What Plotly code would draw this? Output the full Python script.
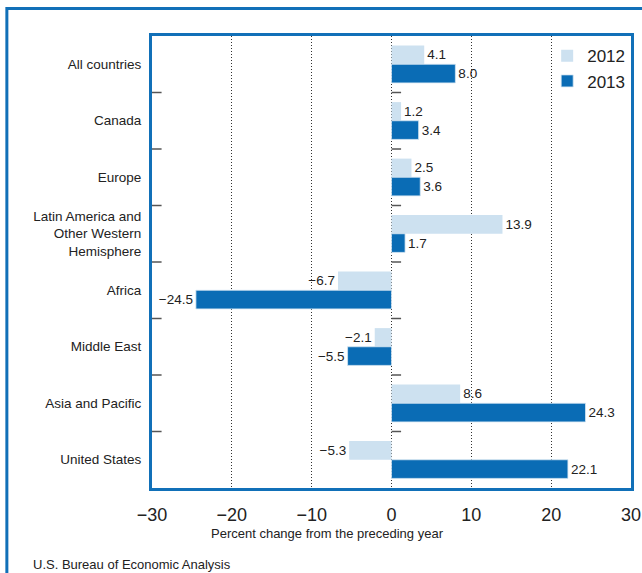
import plotly.graph_objects as go

regions = ['All countries', 'Canada', 'Europe',
           'Latin America and<br>Other Western<br>Hemisphere',
           'Africa', 'Middle East', 'Asia and Pacific', 'United States']
change_2012 = [4.1, 1.2, 2.5, 13.9, -6.7, -2.1, 8.6, -5.3]
change_2013 = [8.0, 3.4, 3.6, 1.7, -24.5, -5.5, 24.3, 22.1]
x_ticks = [-30, -20, -10, 0, 10, 20, 30]

BLUE = '#1170b8'


def fmt(v):
    s = f'{abs(v):.1f}'
    return '\u2212' + s if v < 0 else s


fig = go.Figure()
fig.add_trace(go.Bar(name='2012', y=regions, x=change_2012, orientation='h',
                     marker=dict(color='#cde1f0', line=dict(width=0)),
                     text=[fmt(v) for v in change_2012], textposition='outside',
                     textfont=dict(size=13.5, color='#222'), cliponaxis=False))
fig.add_trace(go.Bar(name='2013', y=regions, x=change_2013, orientation='h',
                     marker=dict(color='#0a6cb5', line=dict(color='#d6e6f3', width=0.8)),
                     text=[fmt(v) for v in change_2013], textposition='outside',
                     textfont=dict(size=13.5, color='#222'), cliponaxis=False))

# small boundary ticks on the left edge and on the zero line
for i in range(1, len(regions)):
    for x0, x1 in [(-30, -28.8), (0, 1.2)]:
        fig.add_shape(type='line', xref='x', yref='y', x0=x0, x1=x1,
                      y0=i - 0.5, y1=i - 0.5, line=dict(color='#555', width=1.5))

# outer frame
fig.add_shape(type='rect', xref='paper', yref='paper', x0=-0.303, x1=1.05,
              y0=-0.25, y1=1.061, line=dict(color=BLUE, width=3), layer='below')

fig.add_annotation(text='Percent change from the preceding year', xref='paper', yref='paper',
                   x=0.367, y=-0.0996, xanchor='center', yanchor='middle', showarrow=False,
                   font=dict(size=13, color='#222'))
fig.add_annotation(text='U.S. Bureau of Economic Analysis', xref='paper', yref='paper',
                   x=-0.252, y=-0.170, xanchor='left', yanchor='middle', showarrow=False,
                   font=dict(size=13, color='#222'))

fig.update_layout(
    width=642, height=573,
    margin=dict(l=152, r=11, t=36, b=85, autoexpand=False),
    paper_bgcolor='white', plot_bgcolor='white',
    font=dict(family='Liberation Sans, Arial, sans-serif', color='#222'),
    barmode='group', bargap=0.34, bargroupgap=0,
    showlegend=True,
    legend=dict(x=0.825, y=0.995, xanchor='left', yanchor='top', traceorder='normal',
                font=dict(size=17, color='#222'), bgcolor='rgba(0,0,0,0)',
                itemwidth=30, tracegroupgap=0),
    xaxis=dict(range=[-30, 30], tickvals=x_ticks,
               ticktext=[fmt(v).replace('.0', '') for v in x_ticks],
               tickfont=dict(size=18, color='#222'), showgrid=True,
               gridcolor='#333', griddash='1px,2px', gridwidth=1, zeroline=False,
               showline=True, linecolor=BLUE, linewidth=3, mirror=True,
               ticks='', ticklabelstandoff=8, automargin=False),
    yaxis=dict(autorange='reversed', showgrid=False, showline=True, linecolor=BLUE,
               linewidth=3, mirror=True, ticks='', tickfont=dict(size=13.5, color='#222'),
               ticklabelstandoff=5, automargin=False),
)

fig.write_html('out.html', config={'displayModeBar': False},
               post_script="document.body.style.margin='0';")
